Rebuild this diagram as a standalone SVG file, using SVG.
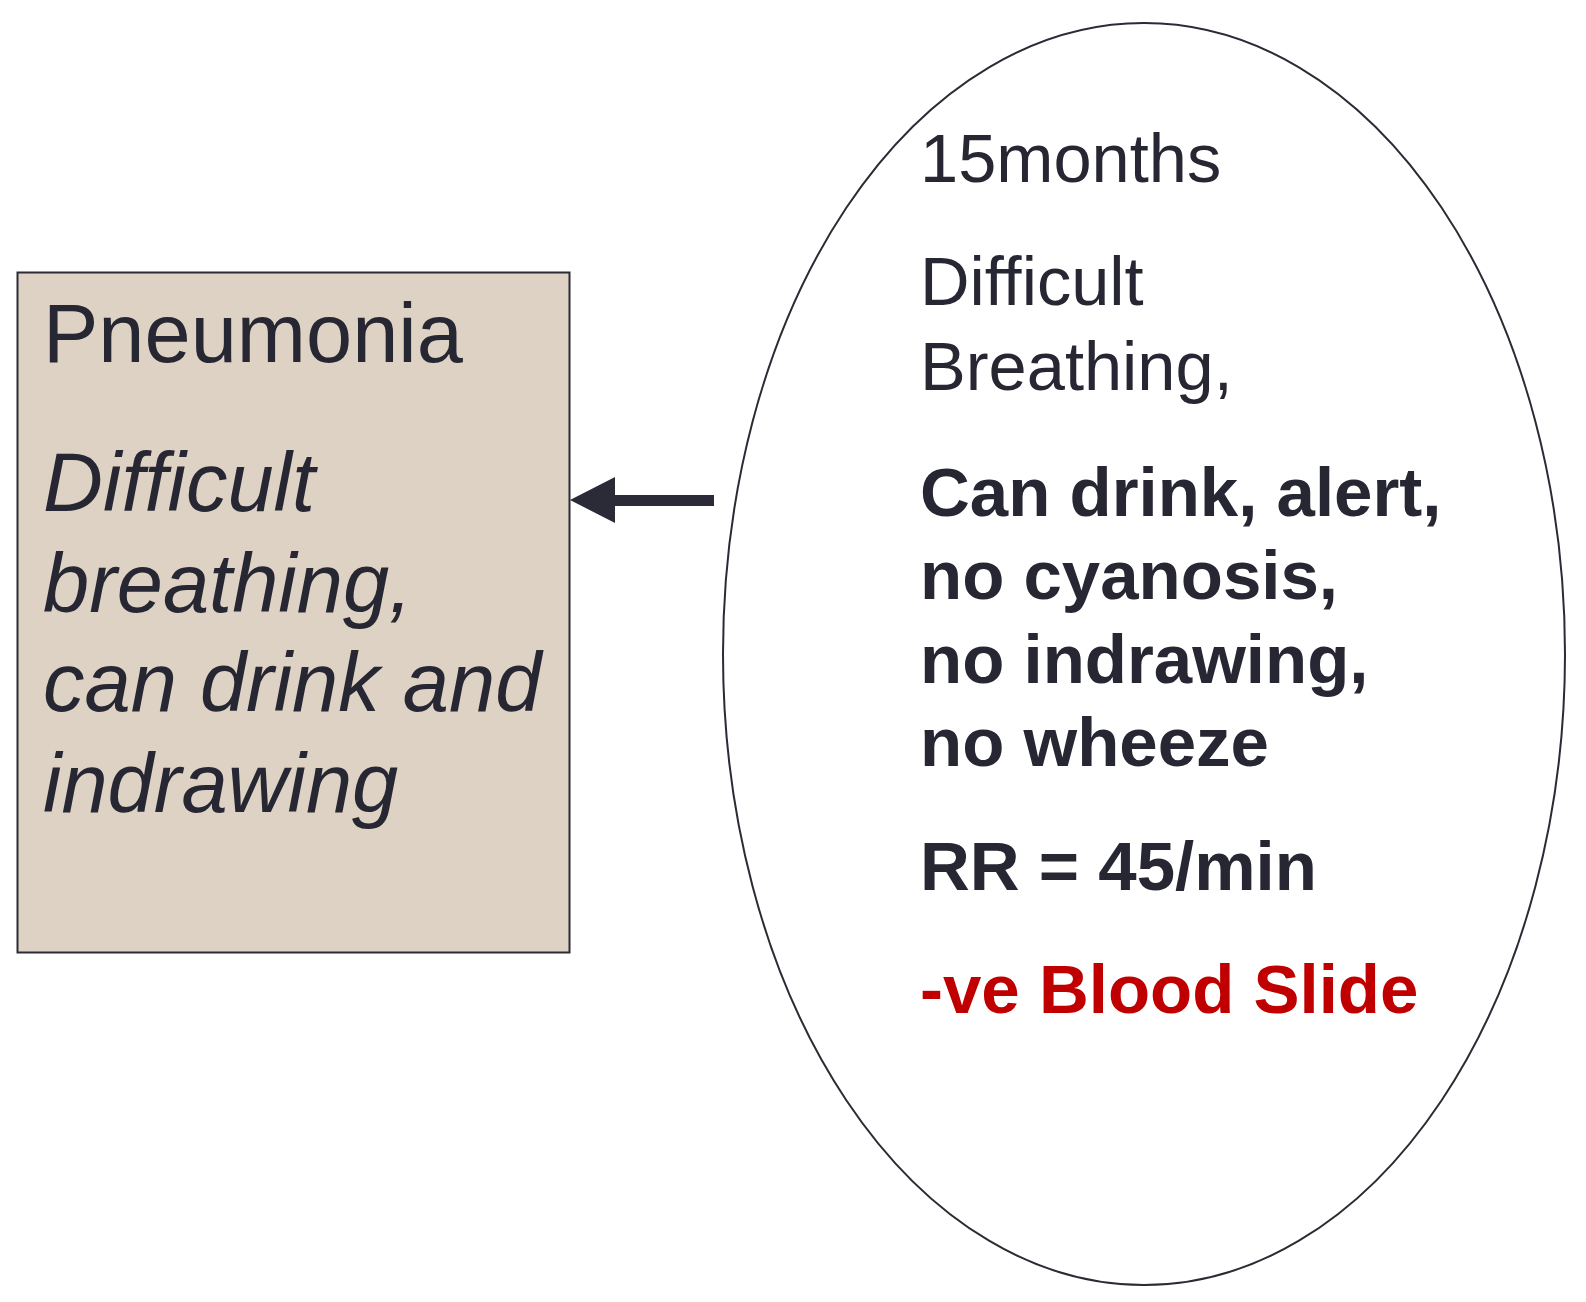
<svg xmlns="http://www.w3.org/2000/svg" width="1586" height="1302" viewBox="0 0 1586 1302">
<style>
.t{font-family:"Liberation Sans",Arial,sans-serif;fill:#272733}
.big{font-size:83px}
.it{font-size:83px;font-style:italic}
.r{font-size:68.6px}
.b{font-size:69px;font-weight:bold}
.red{fill:#C00000}
</style>
<rect width="1586" height="1302" fill="#ffffff"/>
<g id="pneumonia">
<rect x="17.5" y="272.5" width="552" height="680" fill="#DDD2C3" stroke="#2b2b35" stroke-width="2"/>
<text class="t big" x="43" y="362">Pneumonia</text>
<text class="t it" x="43" y="511">Difficult</text>
<text class="t it" x="43" y="612">breathing,</text>
<text class="t it" x="43" y="711">can drink and</text>
<text class="t it" x="43" y="812">indrawing</text>
</g>
<g id="case">
<ellipse cx="1144" cy="654" rx="421" ry="631" fill="#ffffff" stroke="#2b2b35" stroke-width="2"/>
<text class="t r" x="920" y="182">15months</text>
<text class="t r" x="920" y="305">Difficult</text>
<text class="t r" x="920" y="390">Breathing,</text>
<text class="t b" x="920" y="516">Can drink, alert,</text>
<text class="t b" x="920" y="599">no cyanosis,</text>
<text class="t b" x="920" y="683">no indrawing,</text>
<text class="t b" x="920" y="766">no wheeze</text>
<text class="t b" x="920" y="890">RR = 45/min</text>
<text class="t b red" x="920" y="1013">-ve Blood Slide</text>
</g>
<g id="connectors">
<polygon points="570,500 615,477 615,495 714,495 714,506 615,506 615,523" fill="#2b2b38"/>
</g>
</svg>
